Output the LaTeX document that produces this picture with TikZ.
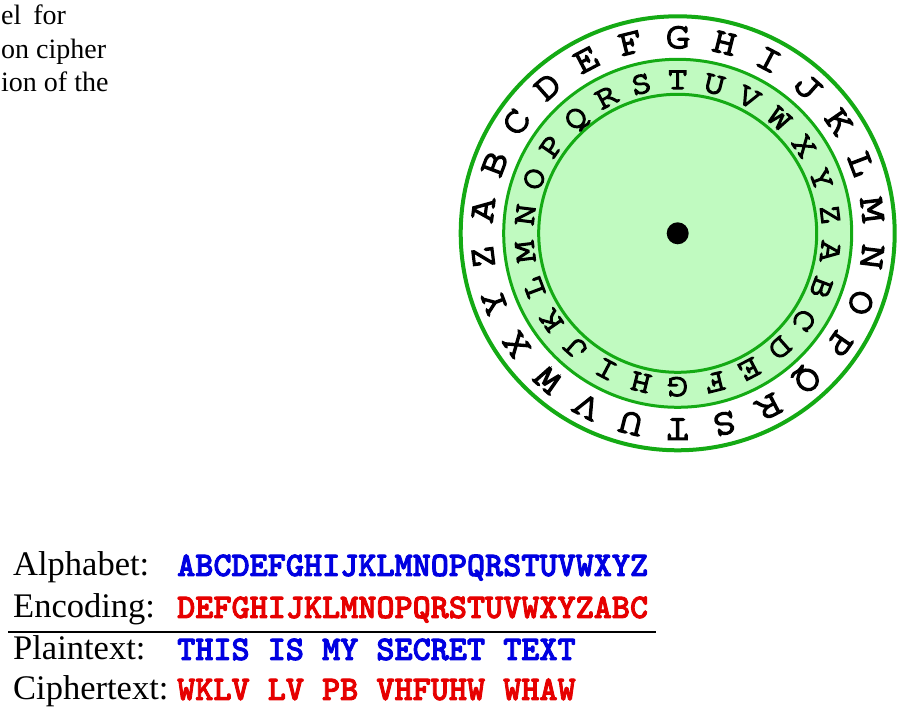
\documentclass[tikz,border=0pt]{standalone}
\usepackage{fontspec}
\setmainfont{Liberation Serif}
\newfontfamily\wheelfont[RawFeature={embolden=4.5}]{texgyrecursor-regular.otf}
\newfontfamily\tabmono[RawFeature={embolden=2.5}]{lmmonolt10-bold.otf}
\definecolor{ringgreen}{RGB}{20,170,20}
\definecolor{fillgreen}{RGB}{192,250,192}
\definecolor{tblue}{RGB}{0,0,225}
\definecolor{tred}{RGB}{230,0,0}
\begin{document}
\begin{tikzpicture}[x=1pt,y=1pt,
  captext/.style={anchor=base west, inner sep=0pt, font=\fontsize{28}{34}\selectfont},
  lbl/.style={anchor=base west, inner sep=0pt, font=\fontsize{34.5}{41}\selectfont},
  codeblue/.style={anchor=base west, inner sep=0pt, text=tblue, font=\tabmono\fontsize{34.5}{41}\selectfont},
  codered/.style={anchor=base west, inner sep=0pt, text=tred, font=\tabmono\fontsize{34.5}{41}\selectfont},
  outerletter/.style={anchor=base, inner sep=0pt, font=\wheelfont\fontsize{37}{37}\selectfont, transform shape},
  innerletter/.style={anchor=base, inner sep=0pt, font=\wheelfont\fontsize{32}{32}\selectfont, transform shape},
  ringline/.style={draw=ringgreen},
]
\useasboundingbox (0,0) rectangle (911,720);
% caption fragment
\node[captext] (cap1) at (1,695) {el\hspace{12pt}for};
\node[captext] (cap2) at (1,661) {on cipher};
\node[captext] (cap3) at (1,628) {ion of the};
% wheel
\coordinate (C) at (677.7,486.7);
\fill[fillgreen] (C) circle (174pt);
\draw[ringline, line width=4pt] (C) circle (217pt);
\draw[ringline, line width=3pt] (C) circle (174pt);
\draw[ringline, line width=3pt] (C) circle (139pt);
\fill[black] (C) circle (11pt);
\foreach \L [count=\i from 0] in {A,...,Z}{
  \pgfmathsetmacro{\angA}{-(\i-6)*360/26}
  \begin{scope}[shift={(C)}, rotate=\angA, yshift=185.5pt, xscale=1.1]
    \node[outerletter] (o\L) at (0,0) {\L};
  \end{scope}
  \pgfmathsetmacro{\angB}{-(\i-19)*360/26}
  \begin{scope}[shift={(C)}, rotate=\angB, yshift=144.5pt, xscale=1.1]
    \node[innerletter] (i\L) at (0,0) {\L};
  \end{scope}
}
% table
\node[lbl] (alab) at (13,144) {Alphabet:};
\node[codeblue] (aval) at (177,144) {ABCDEFGHIJKLMNOPQRSTUVWXYZ};
\node[lbl] (elab) at (13,102) {Encoding:};
\node[codered] (evalue) at (177,102) {DEFGHIJKLMNOPQRSTUVWXYZABC};
\coordinate (ruleL) at (8,88);
\coordinate (ruleR) at (656,88);
\draw[line width=2pt] (ruleL) -- (ruleR);
\node[lbl] (plab) at (13,60) {Plaintext:};
\node[codeblue] (pval) at (177,60) {THIS IS MY SECRET TEXT};
\node[lbl] (clab) at (13,20) {Ciphertext:};
\node[codered] (cval) at (177,20) {WKLV LV PB VHFUHW WHAW};
\end{tikzpicture}
\end{document}
